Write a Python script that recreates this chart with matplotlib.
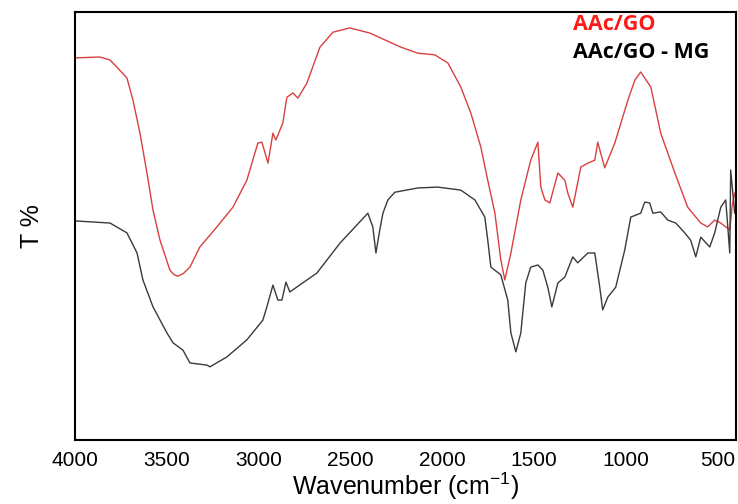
"""
FTIR spectra AAc/GO and AAc/GO - MG
"""
import matplotlib
matplotlib.use('Agg')
import matplotlib.pyplot as plt

plt.rcParams['font.family'] = ['Liberation Sans', 'DejaVu Sans']

# AAc/GO (red) - wavenumber, relative T
wn_go = [4000, 3864, 3809, 3771, 3717, 3684, 3646, 3608, 3575, 3537, 3483, 3460, 3439,
         3410, 3374, 3320, 3227, 3140, 3064, 3004, 2982, 2949, 2922, 2906, 2868, 2846,
         2813, 2786, 2737, 2666, 2595, 2503, 2394, 2225, 2133, 2040, 1969, 1899,
         1844, 1790, 1752, 1713, 1681, 1659, 1626, 1572, 1518, 1479, 1463, 1441,
         1414, 1370, 1332, 1316, 1289, 1245, 1207, 1169, 1153, 1115, 1060, 989,
         951, 919, 864, 810, 733, 663, 592, 554, 516, 483, 434, 420, 407]
t_go = [89.3, 89.5, 88.8, 87.1, 84.6, 79.4, 71.7, 62.4, 53.7, 46.7, 39.7, 38.6, 38.3,
        38.9, 40.4, 45.1, 49.8, 54.4, 60.7, 69.4, 69.6, 64.7, 71.7, 70.1, 74.1, 80.1,
        81.1, 79.9, 83.4, 91.8, 95.3, 96.3, 95.1, 91.8, 90.4, 90.0, 88.1, 82.5,
        76.4, 68.5, 60.7, 53.0, 42.1, 37.4, 43.7, 56.1, 65.4, 69.6, 59.1, 56.1,
        55.4, 62.4, 60.7, 57.7, 54.4, 63.8, 64.7, 65.4, 69.6, 63.6, 69.4, 79.4,
        84.1, 86.0, 82.5, 71.7, 62.4, 54.4, 50.7, 49.8, 51.4, 50.7, 49.1, 55.0, 57.7]

# AAc/GO - MG (dark grey)
wn_mg = [4000, 3809, 3717, 3662, 3630, 3575, 3499, 3466, 3412, 3374, 3281, 3265,
         3173, 3064, 2977, 2955, 2922, 2895, 2873, 2851, 2830, 2683, 2557, 2405,
         2378, 2361, 2340, 2323, 2296, 2258, 2133, 2024, 1899, 1822, 1768, 1752,
         1735, 1681, 1643, 1626, 1599, 1572, 1545, 1518, 1479, 1452, 1425, 1403,
         1370, 1332, 1289, 1262, 1207, 1169, 1142, 1126, 1098, 1055, 1006, 973,
         919, 897, 870, 853, 810, 772, 728, 679, 647, 619, 592, 543, 516, 483,
         456, 434, 429, 407]
t_mg = [51.2, 50.7, 48.4, 43.7, 37.4, 31.1, 25.0, 22.7, 21.0, 18.0, 17.5, 17.1,
        19.4, 23.4, 28.0, 31.1, 36.2, 32.7, 32.7, 36.9, 34.6, 39.0, 46.0, 53.0,
        49.8, 43.7, 49.1, 53.0, 56.1, 57.9, 58.9, 59.1, 58.4, 56.1, 52.1, 46.7,
        40.4, 38.6, 32.7, 25.0, 20.6, 25.0, 36.7, 40.4, 40.9, 39.7, 35.7, 31.1,
        36.7, 38.1, 42.8, 41.4, 43.7, 43.7, 35.7, 30.4, 33.4, 35.7, 44.4, 52.1,
        53.0, 55.6, 55.4, 53.0, 53.3, 51.4, 50.7, 48.4, 46.7, 42.8, 47.4, 45.1,
        48.4, 54.4, 56.1, 43.7, 63.1, 53.0]

xticks = [4000, 3500, 3000, 2500, 2000, 1500, 1000, 500]

fig = plt.figure(figsize=(7.38, 5.04), dpi=100)
ax = fig.add_axes([0.1016, 0.127, 0.8957, 0.849])

ax.plot(wn_go, t_go, color='#d8403f', lw=1.0)
ax.plot(wn_mg, t_mg, color='#3a3a3a', lw=1.0)

ax.set_xlim(4000, 400)
ax.set_ylim(0, 100)
ax.set_xticks(xticks)
ax.set_yticks([])
ax.tick_params(axis='x', length=0, pad=8, labelsize=15)
for s in ax.spines.values():
    s.set_linewidth(1.5)

ax.set_xlabel('Wavenumber (cm$^{\\mathregular{-1}}$)', fontsize=18, labelpad=0)
ax.set_ylabel('T %', fontsize=18, labelpad=22)

fig.text(0.777, 0.951, 'AAc/GO', color='#ff1a1a', fontsize=15.5, fontweight='bold',
         family=['Open Sans', 'DejaVu Sans'], va='center', ha='left')
fig.text(0.777, 0.896, 'AAc/GO - MG', color='black', fontsize=15.5, fontweight='bold',
         family=['Open Sans', 'DejaVu Sans'], va='center', ha='left')

plt.savefig('out.png', dpi=100)
